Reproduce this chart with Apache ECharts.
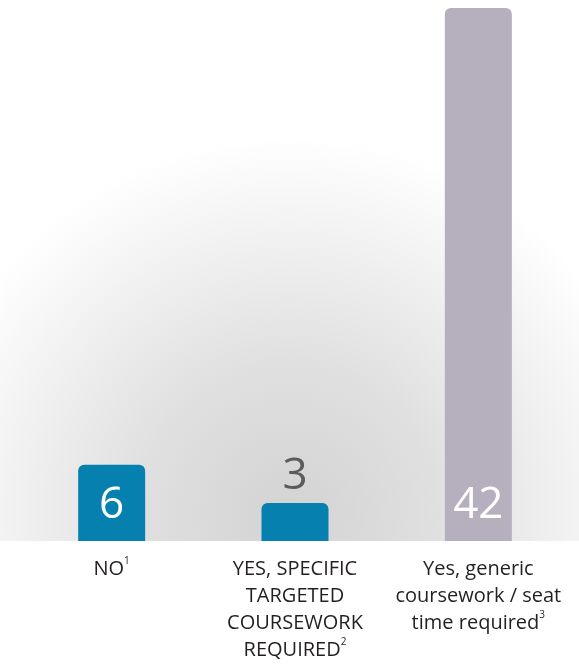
<!DOCTYPE html>
<html>
<head>
<meta charset="utf-8">
<script src="https://cdn.jsdelivr.net/npm/echarts@6/dist/echarts.min.js"></script>
<style>
  html, body { margin: 0; padding: 0; background: #fff; }
  #chart { width: 579px; height: 668px; }
</style>
</head>
<body>
<div id="chart"></div>
<script>
  // categories (rich-text markup for the superscript footnotes)
  let categories = [
    'NO{sup|1}',
    'YES, SPECIFIC\nTARGETED\nCOURSEWORK\nREQUIRED{sup|2}',
    'Yes, generic\ncoursework / seat\ntime required{sup|3}'
  ]
  let values = [6, 3, 42]
  let barColors = ['#0680ae', '#0680ae', '#b6afbe']

  let chart = echarts.init(document.getElementById('chart'))
  let font = '"Open Sans", "Noto Sans", sans-serif'

  let data = values.map(function (v, i) {
    let item = { value: v, itemStyle: { color: barColors[i] } }
    if (v < 5) {
      item.label = { position: 'top', distance: 4, color: '#5b5b5b' }
    }
    return item
  })

  let option = {
    backgroundColor: '#ffffff',
    animation: false,
    graphic: [{
      type: 'rect',
      z: -10,
      shape: { x: 0, y: 0, width: 579, height: 541 },
      style: {
        fill: {
          type: 'radial', x: 0.5, y: 0.95, r: 0.7,
          colorStops: [
            { offset: 0, color: '#d3d3d3' },
            { offset: 0.4, color: '#e0e0e0' },
            { offset: 1, color: '#ffffff' }
          ]
        }
      }
    }],
    grid: { left: 20, right: 9, top: 8, bottom: 127 },
    xAxis: {
      type: 'category',
      data: categories,
      axisLine: { show: false },
      axisTick: { show: false },
      axisLabel: {
        interval: 0,
        margin: 15,
        color: '#231f20',
        fontFamily: font,
        fontSize: 20,
        lineHeight: 27,
        verticalAlign: 'top',
        rich: {
          sup: { fontSize: 10, verticalAlign: 'top', lineHeight: 27, padding: [0, 0, 8, 0], color: '#231f20', fontFamily: font }
        }
      }
    },
    yAxis: {
      type: 'value',
      min: 0,
      max: 42,
      show: false,
      splitLine: { show: false }
    },
    series: [{
      type: 'bar',
      data: data,
      barWidth: 67,
      itemStyle: { borderRadius: [6, 6, 0, 0] },
      label: {
        show: true,
        position: 'insideBottom',
        distance: 14,
        color: '#ffffff',
        fontFamily: font,
        fontSize: 44
      }
    }]
  }
  chart.setOption(option)
  window.onresize = function () {
    chart.resize()
  }
</script>
</body>
</html>
